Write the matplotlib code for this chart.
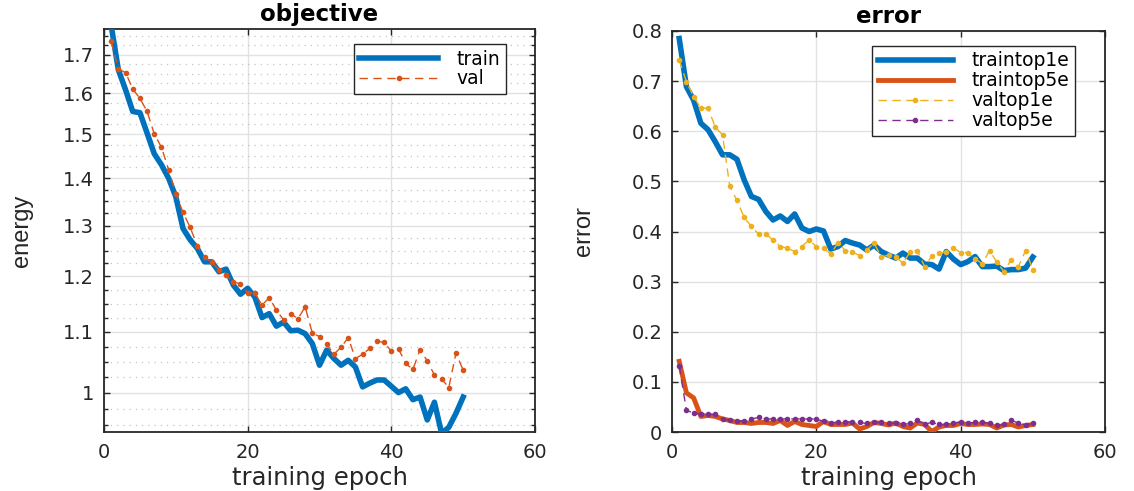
import numpy as np
import matplotlib
matplotlib.use('Agg')
import matplotlib.pyplot as plt
from matplotlib.ticker import FixedLocator, FixedFormatter, NullFormatter

# epochs
epochs = np.arange(1, 51)

# objective (energy), log y axis
obj_train = [1.78, 1.66, 1.609, 1.555, 1.552, 1.503, 1.455, 1.43, 1.40, 1.36,
             1.294, 1.271, 1.254, 1.228, 1.228, 1.209, 1.214, 1.184, 1.167, 1.178,
             1.162, 1.125, 1.132, 1.110, 1.117, 1.102, 1.103, 1.097, 1.080, 1.044,
             1.069, 1.055, 1.044, 1.052, 1.041, 1.009, 1.015, 1.020, 1.020, 1.010,
             1.000, 1.006, 0.989, 0.993, 0.958, 0.985, 0.938, 0.947, 0.968, 0.993]
obj_val = [1.736, 1.662, 1.653, 1.611, 1.587, 1.555, 1.501, 1.470, 1.419, 1.366,
           1.327, 1.296, 1.259, 1.237, 1.227, 1.213, 1.202, 1.190, 1.186, 1.170,
           1.169, 1.147, 1.161, 1.138, 1.121, 1.132, 1.123, 1.144, 1.098, 1.092,
           1.079, 1.062, 1.074, 1.090, 1.055, 1.062, 1.072, 1.084, 1.082, 1.067,
           1.071, 1.047, 1.037, 1.070, 1.051, 1.028, 1.022, 1.008, 1.064, 1.036]

# error curves
train_top1 = [0.785, 0.689, 0.662, 0.616, 0.603, 0.579, 0.553, 0.553, 0.544, 0.503,
              0.470, 0.464, 0.440, 0.423, 0.431, 0.420, 0.435, 0.407, 0.400, 0.405,
              0.401, 0.365, 0.370, 0.382, 0.377, 0.373, 0.363, 0.373, 0.360, 0.353,
              0.347, 0.357, 0.347, 0.347, 0.335, 0.334, 0.325, 0.360, 0.345, 0.334,
              0.340, 0.350, 0.330, 0.330, 0.331, 0.322, 0.324, 0.324, 0.327, 0.349]
train_top5 = [0.141, 0.078, 0.068, 0.031, 0.033, 0.031, 0.026, 0.023, 0.019, 0.019,
              0.017, 0.019, 0.019, 0.017, 0.023, 0.013, 0.021, 0.015, 0.013, 0.011,
              0.021, 0.015, 0.015, 0.015, 0.018, 0.006, 0.011, 0.019, 0.017, 0.014,
              0.018, 0.011, 0.008, 0.018, 0.015, 0.001, 0.010, 0.013, 0.013, 0.017,
              0.015, 0.015, 0.016, 0.015, 0.008, 0.014, 0.015, 0.010, 0.013, 0.015]
val_top1 = [0.742, 0.699, 0.669, 0.646, 0.646, 0.608, 0.593, 0.490, 0.462, 0.428,
            0.410, 0.395, 0.395, 0.383, 0.370, 0.367, 0.360, 0.370, 0.383, 0.370,
            0.367, 0.355, 0.378, 0.362, 0.359, 0.352, 0.363, 0.377, 0.349, 0.353,
            0.349, 0.337, 0.359, 0.362, 0.330, 0.351, 0.357, 0.359, 0.367, 0.358,
            0.358, 0.345, 0.336, 0.362, 0.339, 0.320, 0.344, 0.330, 0.362, 0.324]
val_top5 = [0.132, 0.043, 0.038, 0.035, 0.035, 0.035, 0.026, 0.023, 0.022, 0.022,
            0.026, 0.029, 0.026, 0.026, 0.026, 0.026, 0.026, 0.026, 0.026, 0.026,
            0.021, 0.018, 0.020, 0.020, 0.020, 0.019, 0.017, 0.019, 0.019, 0.018,
            0.017, 0.015, 0.017, 0.023, 0.016, 0.019, 0.015, 0.015, 0.018, 0.020,
            0.018, 0.019, 0.019, 0.017, 0.013, 0.015, 0.023, 0.018, 0.014, 0.017]

energy_ticks = [1, 1.1, 1.2, 1.3, 1.4, 1.5, 1.6, 1.7]
energy_labels = ['1', '1.1', '1.2', '1.3', '1.4', '1.5', '1.6', '1.7']
error_ticks = [0, 0.1, 0.2, 0.3, 0.4, 0.5, 0.6, 0.7, 0.8]
error_labels = ['0', '0.1', '0.2', '0.3', '0.4', '0.5', '0.6', '0.7', '0.8']
epoch_ticks = [0, 20, 40, 60]

blue = '#0072BD'
orange = '#D95319'
yellow = '#EDB120'
purple = '#7E2F8E'
dark = '#262626'

plt.rcParams['font.family'] = 'DejaVu Sans'

fig = plt.figure(figsize=(11.34, 4.91), dpi=100)
ax1 = fig.add_axes([104/1134, 59/491, 431/1134, 403/491])
ax2 = fig.add_axes([672/1134, 59/491, 433/1134, 401/491])


def style(ax):
    for s in ax.spines.values():
        s.set_color(dark)
        s.set_linewidth(1.3)
    ax.tick_params(which='both', direction='in', top=True, right=True,
                   color=dark, labelcolor=dark, width=1.0)
    ax.tick_params(which='major', length=4.5, labelsize=14)
    ax.tick_params(which='minor', length=3)
    ax.tick_params(axis='x', pad=8)
    ax.tick_params(axis='y', pad=7)
    ax.set_xlim(0, 60)
    ax.set_xticks(epoch_ticks)
    ax.grid(True, which='major', color='#e2e2e2', lw=1.0)
    ax.set_axisbelow(True)
    ax.set_xlabel('training epoch', fontsize=17.5, color=dark, labelpad=3)


# objective
ax1.plot(epochs, obj_train, color=blue, lw=4, label='train', zorder=3)
ax1.plot(epochs, obj_val, color=orange, lw=1, ls=(0, (6, 4)), marker='.',
         ms=6, label='val', zorder=4)
ax1.set_yscale('log')
ax1.set_ylim(0.94, 1.77)
ax1.yaxis.set_major_locator(FixedLocator(energy_ticks))
ax1.yaxis.set_major_formatter(FixedFormatter(energy_labels))
ax1.yaxis.set_minor_locator(FixedLocator(np.arange(0.95, 1.7625, 0.025)))
ax1.yaxis.set_minor_formatter(NullFormatter())
style(ax1)
ax1.grid(True, which='minor', axis='y', color='#c4c4c4', lw=0.9, ls=(0, (1, 4)))
ax1.set_title('objective', fontsize=16.5, fontweight='bold', pad=6, color='black')
ax1.set_ylabel('energy', fontsize=17, family='Liberation Sans', color=dark)
ax1.yaxis.set_label_coords(-0.165, 0.5)
leg1 = ax1.legend(loc='upper right', bbox_to_anchor=(0.933, 0.963), fontsize=13.5,
                  handlelength=4.2, fancybox=False, framealpha=1, edgecolor=dark,
                  borderaxespad=0, labelspacing=0.05, borderpad=0.3, handletextpad=1.0)
leg1.get_frame().set_linewidth(1.0)

# error
ax2.plot(epochs, train_top1, color=blue, lw=4, label='traintop1e', zorder=3)
ax2.plot(epochs, train_top5, color=orange, lw=3.5, label='traintop5e', zorder=3)
ax2.plot(epochs, val_top1, color=yellow, lw=1, ls=(0, (6, 4)), marker='.',
         ms=6, label='valtop1e', zorder=4)
ax2.plot(epochs, val_top5, color=purple, lw=1, ls=(0, (6, 4)), marker='.',
         ms=6, label='valtop5e', zorder=4)
ax2.set_ylim(0, 0.8)
ax2.set_yticks(error_ticks)
ax2.set_yticklabels(error_labels)
style(ax2)
ax2.set_title('error', fontsize=16.5, fontweight='bold', pad=6, color='black')
ax2.set_ylabel('error', fontsize=17, family='Liberation Sans', color=dark)
ax2.yaxis.set_label_coords(-0.178, 0.5)
leg2 = ax2.legend(loc='upper right', bbox_to_anchor=(0.931, 0.963), fontsize=13.5,
                  handlelength=4.0, fancybox=False, framealpha=1, edgecolor=dark,
                  borderaxespad=0, labelspacing=0.05, borderpad=0.3, handletextpad=1.0)
leg2.get_frame().set_linewidth(1.0)

fig.savefig('out.png', dpi=100, facecolor='white')
